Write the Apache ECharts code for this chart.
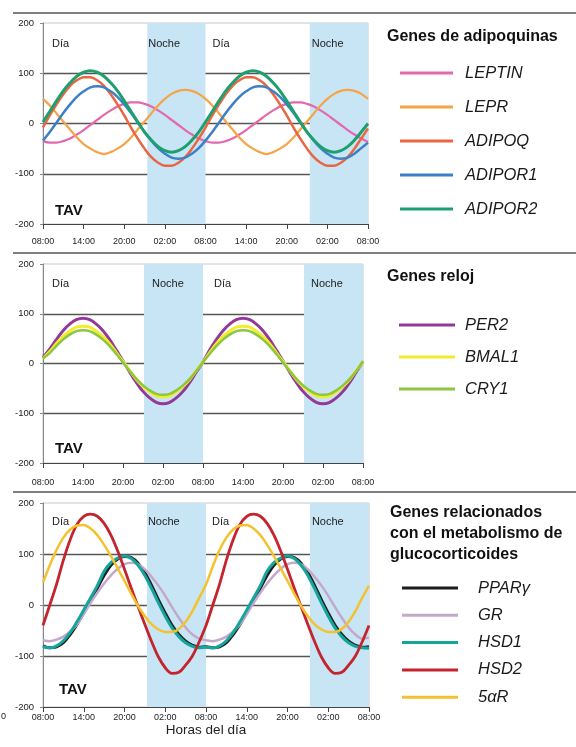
<!DOCTYPE html>
<html><head><meta charset="utf-8">
<script src="https://cdn.jsdelivr.net/npm/echarts@6/dist/echarts.min.js"></script>
<style>html,body{margin:0;padding:0;background:#fff}#c{width:576px;height:747px}</style>
</head><body><div id="c"></div>
<script>
// ---------- data ----------
const hours = [0,1,2,3,4,5,6,7,8,9,10,11,12,13,14,15,16,17,18,19,20,21,22,23,24,25,26,27,28,29,30,31,32,33,34,35,36,37,38,39,40,41,42,43,44,45,46,47,48];
const tickLabels = ['08:00','14:00','20:00','02:00','08:00','14:00','20:00','02:00','08:00'];
const nightStart = [15.4, 15.15, 15.3];   // hours after 08:00 when each night band begins

// Panel 1: Genes de adipoquinas
const leptin  = [-35,-38,-38,-35,-30,-22,-13,-3,7,17,26,34,39,42,42,39,34,26,17,7,-3,-13,-22,-30,-35,-38,-38,-35,-30,-22,-13,-3,7,17,26,34,39,42,42,39,34,26,17,7,-3,-13,-22,-30,-37];
const lepr    = [49,36,20,4,-12,-28,-41,-50,-57,-61,-57,-50,-41,-28,-12,4,20,36,49,59,65,67,65,59,49,36,20,4,-12,-28,-41,-50,-57,-61,-57,-50,-41,-28,-12,4,20,36,49,59,65,67,65,59,49];
const adipoq  = [-8,16,38,58,75,86,92,92,86,75,58,38,16,-8,-30,-50,-67,-78,-84,-84,-78,-67,-50,-30,-8,16,38,58,75,86,92,92,86,75,58,38,16,-8,-30,-50,-67,-78,-84,-84,-78,-67,-50,-30,-10];
const adipor1 = [-34,-17,2,21,38,53,64,72,74,72,64,53,38,21,2,-17,-34,-49,-60,-68,-70,-68,-60,-49,-34,-17,2,21,38,53,64,72,74,72,64,53,38,21,2,-17,-34,-49,-60,-68,-70,-68,-60,-49,-38];
const adipor2 = [3,24,45,65,81,94,102,105,102,94,81,65,45,24,3,-17,-33,-46,-54,-57,-54,-46,-33,-17,3,24,45,65,81,94,102,105,102,94,81,65,45,24,3,-17,-33,-46,-54,-57,-54,-46,-33,-17,0];

// Panel 2: Genes reloj
const per2  = [12,29,48,66,79,88,91,88,79,66,48,27,5,-17,-38,-56,-69,-78,-81,-78,-69,-56,-38,-17,3,27,48,66,79,88,91,88,79,66,48,27,5,-17,-38,-56,-69,-78,-81,-78,-69,-56,-38,-17,3];
const bmal1 = [10,24,40,54,65,73,75,73,65,54,40,22,4,-14,-32,-46,-57,-65,-67,-65,-57,-46,-32,-14,3,22,40,54,65,73,75,73,65,54,40,22,4,-14,-32,-46,-57,-65,-67,-65,-57,-46,-32,-14,3];
const cry1  = [10,21,35,48,58,65,67,65,58,48,35,19,2,-15,-31,-44,-54,-61,-63,-61,-54,-44,-31,-15,3,19,35,48,58,65,67,65,58,48,35,19,2,-15,-31,-44,-54,-61,-63,-61,-54,-44,-31,-15,5];

// Panel 3: Genes relacionados con el metabolismo de glucocorticoides
const pparg = [-80,-84,-82,-74,-58,-38,-15,9,33,58,78,90,95,93,82,63,38,10,-16,-40,-58,-71,-79,-83,-82,-84,-82,-74,-58,-38,-15,9,33,58,78,90,95,93,82,63,38,10,-16,-40,-58,-71,-79,-83,-82];
const gr    = [-69,-71,-68,-62,-52,-38,-18,4,24,42,58,71,80,83,80,70,55,38,18,-4,-25,-44,-58,-66,-69,-71,-68,-62,-52,-38,-18,4,24,42,58,71,80,83,80,70,55,38,18,-4,-25,-44,-58,-66,-64];
const hsd1  = [-82,-84,-80,-70,-54,-33,-10,14,38,66,83,92,96,91,78,58,32,4,-22,-45,-62,-74,-81,-84,-83,-84,-80,-70,-54,-33,-10,14,38,66,83,92,96,91,78,58,32,4,-22,-45,-62,-74,-81,-84,-85];
const hsd2  = [-40,0,41,88,128,158,174,178,174,160,137,106,70,33,-3,-38,-72,-102,-123,-134,-132,-118,-100,-72,-40,0,41,88,128,158,174,178,174,160,137,106,70,33,-3,-38,-72,-102,-123,-134,-132,-118,-100,-72,-40];
const s5ar  = [44,78,108,132,148,156,157,150,137,118,96,72,47,22,-2,-22,-38,-48,-53,-53,-47,-33,-12,14,40,76,108,132,148,156,157,150,137,118,96,72,47,22,-2,-22,-38,-48,-53,-53,-47,-33,-12,14,38];

const panelTitles = ['Genes de adipoquinas', 'Genes reloj', 'Genes relacionados\ncon el metabolismo de\nglucocorticoides'];
const panelNames = [
  ['LEPTIN','LEPR','ADIPOQ','ADIPOR1','ADIPOR2'],
  ['PER2','BMAL1','CRY1'],
  ['PPARγ','GR','HSD1','HSD2','5αR']
];
const panelValues = [
  [leptin, lepr, adipoq, adipor1, adipor2],
  [per2, bmal1, cry1],
  [pparg, gr, hsd1, hsd2, s5ar]
];

// ---------- styles ----------
const FONT = '"Liberation Sans", Arial, Helvetica, sans-serif';
const colors = [
  ['#e468ad','#f5a447','#ea6640','#3c80c6','#1f9f70'],
  ['#93399a','#f2ec2c','#8dc63f'],
  ['#1d1d1d','#c4a8cc','#16a59d','#c3242d','#f4c22e']
];
const widths = [[2.2,2.2,2.5,2.5,3],[3,3,2.5],[3,2.5,3,2.8,2.5]];
const grids = [
  {left:43, top:23,  width:325, height:201},
  {left:43, top:264, width:320, height:199},
  {left:43, top:503, width:326, height:204}
];
const xLabelMargin = [13, 15, 6];
const labelOff = [
  {dia1:[9,15], noche1:[1,15], dia2:[7,15], noche2:[2,15]},
  {dia1:[9,14], noche1:[8,14], dia2:[11,14], noche2:[7,14]},
  {dia1:[9,13], noche1:[1,13], dia2:[6,13], noche2:[2,13]}
];
const NIGHT = '#c7e5f5';

const xAxes = [], yAxes = [], series = [], legends = [], titles = [];
grids.forEach((g, gi) => {
  xAxes.push({
    type:'value', gridIndex:gi, min:0, max:48, interval:6,
    axisLine:{show:true, onZero:false, lineStyle:{color:'#444', width:1}},
    axisTick:{show:true, length:5, lineStyle:{color:'#444'}},
    axisLabel:{fontSize:9, color:'#222', fontFamily:FONT, margin:xLabelMargin[gi],
      formatter: v => tickLabels[Math.round(v/6)]},
    splitLine:{show:false},
    name: gi === 2 ? 'Horas del día' : '',
    nameLocation:'middle', nameGap:15,
    nameTextStyle:{fontSize:13.5, color:'#222', fontFamily:FONT}
  });
  yAxes.push({
    type:'value', gridIndex:gi, min:-200, max:200, interval:100,
    axisLine:{show:true, lineStyle:{color:'#888', width:1}},
    axisTick:{show:true, length:3, lineStyle:{color:'#888'}},
    axisLabel:{fontSize:9.5, color:'#222', fontFamily:FONT, margin:9},
    splitLine:{show:true, showMinLine:false, showMaxLine:false, lineStyle:{color:'#555', width:1.3}}
  });
  const o = labelOff[gi];
  const lab = (t, p) => ({show:true, formatter:t, position:p, fontSize:11, color:'#222', fontFamily:FONT});
  series.push({
    type:'line', xAxisIndex:gi, yAxisIndex:gi, data:[], z:1, silent:true,
    markArea:{silent:true, data:[
      [{xAxis:0, yAxis:-200, itemStyle:{color:'rgba(0,0,0,0)'}, label:lab('Día', o.dia1)}, {xAxis:nightStart[gi], yAxis:200}],
      [{xAxis:nightStart[gi], yAxis:-200, itemStyle:{color:NIGHT}, label:lab('Noche', o.noche1)}, {xAxis:24, yAxis:200}],
      [{xAxis:24, yAxis:-200, itemStyle:{color:'rgba(0,0,0,0)'}, label:lab('Día', o.dia2)}, {xAxis:24+nightStart[gi], yAxis:200}],
      [{xAxis:24+nightStart[gi], yAxis:-200, itemStyle:{color:NIGHT}, label:lab('Noche', o.noche2)}, {xAxis:48, yAxis:200}]
    ]}
  });
  panelNames[gi].forEach((nm, si) => {
    series.push({
      type:'line', name:nm, xAxisIndex:gi, yAxisIndex:gi,
      data: hours.map((h, i) => [h, panelValues[gi][si][i]]),
      smooth:0.35, showSymbol:false, silent:true,
      lineStyle:{color:colors[gi][si], width:widths[gi][si]},
      itemStyle:{color:colors[gi][si]},
      z: 2 + si
    });
  });
});

const legendCfg = [
  {top:63,  lh:20, gap:14, w:53, left:400, pad:7},
  {top:315, lh:20, gap:12, w:56, left:399, pad:5},
  {top:579, lh:18, gap:9.3, w:56, left:402, pad:15}
];
legendCfg.forEach((c, gi) => {
  legends.push({
    data: panelNames[gi], orient:'vertical', left:c.left, top:c.top,
    icon:'rect', itemWidth:c.w, itemHeight:3, itemGap:c.gap, padding:0,
    selectedMode:false,
    textStyle:{fontSize:16.5, fontStyle:'italic', color:'#1a1a1a', fontFamily:FONT, lineHeight:c.lh, padding:[0,0,0,c.pad]}
  });
});
const titlePos = [{left:387, top:26}, {left:387, top:266}, {left:390, top:502}];
titlePos.forEach((p, gi) => {
  titles.push({text:panelTitles[gi], left:p.left, top:p.top, padding:0,
    textStyle:{fontSize:16, fontWeight:'bold', color:'#111', fontFamily:FONT, lineHeight:21}});
});

const chart = echarts.init(document.getElementById('c'), null, {renderer:'canvas'});
chart.setOption({
  animation:false,
  backgroundColor:'#fff',
  title: titles,
  legend: legends,
  grid: grids.map(g => Object.assign({show:true, borderColor:'#c8c8c8', borderWidth:1, backgroundColor:'transparent'}, g)),
  xAxis: xAxes, yAxis: yAxes, series: series,
  graphic: [
    {type:'line', shape:{x1:13, y1:13, x2:576, y2:13}, style:{stroke:'#555', lineWidth:1.5}},
    {type:'line', shape:{x1:13, y1:253, x2:576, y2:253}, style:{stroke:'#555', lineWidth:1.5}},
    {type:'line', shape:{x1:13, y1:492, x2:576, y2:492}, style:{stroke:'#555', lineWidth:1.5}},
    {type:'text', left:55, top:203, style:{text:'TAV', fontSize:15, fontWeight:'bold', fill:'#111', fontFamily:FONT}},
    {type:'text', left:55, top:441, style:{text:'TAV', fontSize:15, fontWeight:'bold', fill:'#111', fontFamily:FONT}},
    {type:'text', left:59, top:682, style:{text:'TAV', fontSize:15, fontWeight:'bold', fill:'#111', fontFamily:FONT}},
    {type:'text', left:1, top:712, style:{text:'0', fontSize:9, fill:'#222', fontFamily:FONT}}
  ]
});
</script></body></html>
